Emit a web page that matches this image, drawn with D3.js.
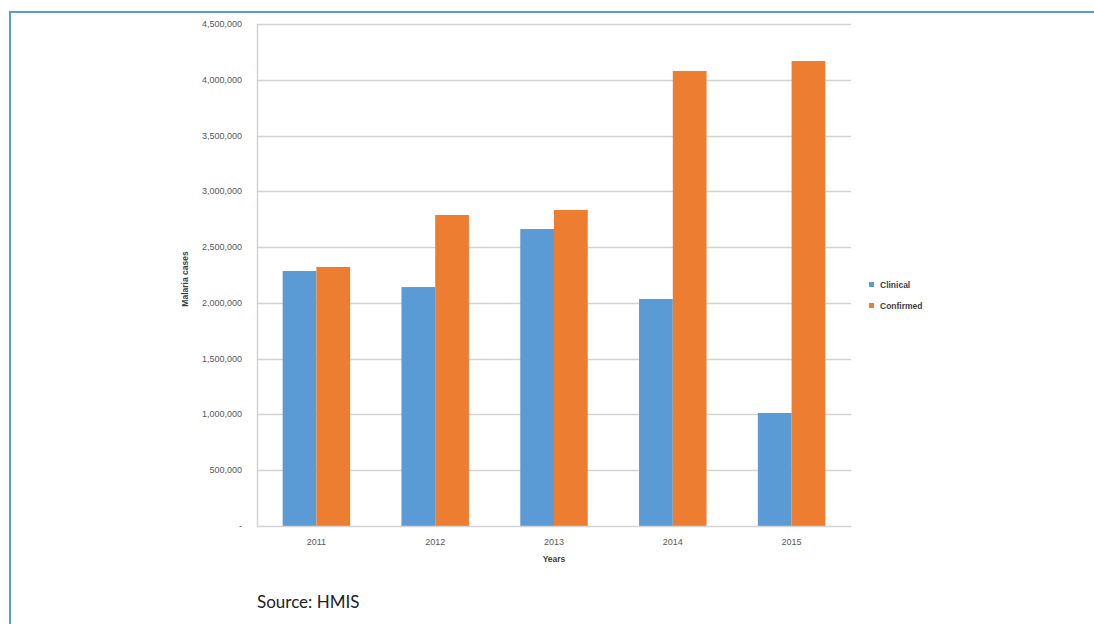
<!DOCTYPE html>
<html>
<head>
<meta charset="utf-8">
<script src="https://cdn.jsdelivr.net/npm/d3@7"></script>
<style>
  html, body { margin: 0; padding: 0; background: #fff; }
  svg { display: block; }
</style>
</head>
<body>
<svg id="chart" width="1094" height="624"></svg>
<script>
// Malaria cases by year, clinical vs. confirmed
const years = ["2011", "2012", "2013", "2014", "2015"];
const seriesNames = ["Clinical", "Confirmed"];
const clinical = [2286000, 2142000, 2662000, 2035000, 1013000];
const confirmed = [2322000, 2788000, 2833000, 4079000, 4168000];
const yTicks = [0, 500000, 1000000, 1500000, 2000000, 2500000, 3000000, 3500000, 4000000, 4500000];
const colors = ["#5b9bd5", "#ed7d31"];

const svg = d3.select("#chart");
const font = "'Liberation Sans', Arial, sans-serif";

// outer frame
svg.append("rect")
  .attr("x", 10).attr("y", 12)
  .attr("width", 1200).attr("height", 700)
  .attr("fill", "none")
  .attr("stroke", "#5b9bd5")
  .attr("stroke-width", 2);

const plot = { left: 257, right: 851, top: 24, bottom: 526 };

const x = d3.scaleBand()
  .domain(years)
  .range([plot.left, plot.right])
  .paddingInner(0.432)
  .paddingOuter(0.216);

const xInner = d3.scaleBand()
  .domain(seriesNames)
  .range([0, x.bandwidth()]);

const y = d3.scaleLinear()
  .domain([0, 4500000])
  .range([plot.bottom, plot.top]);

// gridlines
svg.append("g")
  .selectAll("line")
  .data(yTicks.filter(d => d > 0))
  .join("line")
  .attr("x1", plot.left).attr("x2", plot.right)
  .attr("y1", d => Math.round(y(d)) + 0.5)
  .attr("y2", d => Math.round(y(d)) + 0.5)
  .attr("stroke", "#d3d3d3")
  .attr("stroke-width", 1.5);

// bars
const rows = years.map((yr, i) => ({ year: yr, values: [clinical[i], confirmed[i]] }));
svg.append("g")
  .selectAll("g")
  .data(rows)
  .join("g")
  .attr("transform", d => `translate(${x(d.year)},0)`)
  .selectAll("rect")
  .data(d => d.values.map((v, j) => ({ name: seriesNames[j], value: v, color: colors[j] })))
  .join("rect")
  .attr("x", d => xInner(d.name))
  .attr("width", xInner.bandwidth())
  .attr("y", d => y(d.value))
  .attr("height", d => y(0) - y(d.value))
  .attr("fill", d => d.color);

// axes lines
svg.append("line")
  .attr("x1", plot.left + 0.5).attr("x2", plot.left + 0.5)
  .attr("y1", plot.top).attr("y2", plot.bottom)
  .attr("stroke", "#d3d3d3").attr("stroke-width", 1.5);
svg.append("line")
  .attr("x1", plot.left).attr("x2", plot.right)
  .attr("y1", plot.bottom + 0.5).attr("y2", plot.bottom + 0.5)
  .attr("stroke", "#d3d3d3").attr("stroke-width", 1.5);

// y tick labels
const fmt = d3.format(",");
svg.append("g")
  .selectAll("text")
  .data(yTicks)
  .join("text")
  .attr("x", 242)
  .attr("y", d => y(d) + 3)
  .attr("text-anchor", "end")
  .attr("font-family", font)
  .attr("font-size", 9)
  .attr("fill", "#595959")
  .text(d => d === 0 ? "-" : fmt(d));

// x tick labels
svg.append("g")
  .selectAll("text")
  .data(years)
  .join("text")
  .attr("x", d => x(d) + x.bandwidth() / 2)
  .attr("y", 545)
  .attr("text-anchor", "middle")
  .attr("font-family", font)
  .attr("font-size", 9)
  .attr("fill", "#595959")
  .text(d => d);

// axis titles
svg.append("text")
  .attr("x", (plot.left + plot.right) / 2)
  .attr("y", 562)
  .attr("text-anchor", "middle")
  .attr("font-family", font)
  .attr("font-size", 8.5)
  .attr("font-weight", "bold")
  .attr("fill", "#404040")
  .text("Years");

svg.append("text")
  .attr("transform", `translate(188,${(plot.top + plot.bottom) / 2 + 4}) rotate(-90)`)
  .attr("text-anchor", "middle")
  .attr("font-family", font)
  .attr("font-size", 8.5)
  .attr("font-weight", "bold")
  .attr("fill", "#404040")
  .text("Malaria cases");

// legend
const legend = svg.append("g")
  .selectAll("g")
  .data(seriesNames)
  .join("g")
  .attr("transform", (d, i) => `translate(869,${282 + i * 21})`);
legend.append("rect")
  .attr("width", 5).attr("height", 5)
  .attr("fill", (d, i) => colors[i]);
legend.append("text")
  .attr("x", 11).attr("y", 6)
  .attr("font-family", font)
  .attr("font-size", 8.5)
  .attr("font-weight", "bold")
  .attr("fill", "#404040")
  .text(d => d);

// source note
svg.append("text")
  .attr("x", 257)
  .attr("y", 608)
  .attr("font-family", "Lato, 'Open Sans', sans-serif")
  .attr("font-size", 17)
  .attr("fill", "#222")
  .text("Source: HMIS");
</script>
</body>
</html>
